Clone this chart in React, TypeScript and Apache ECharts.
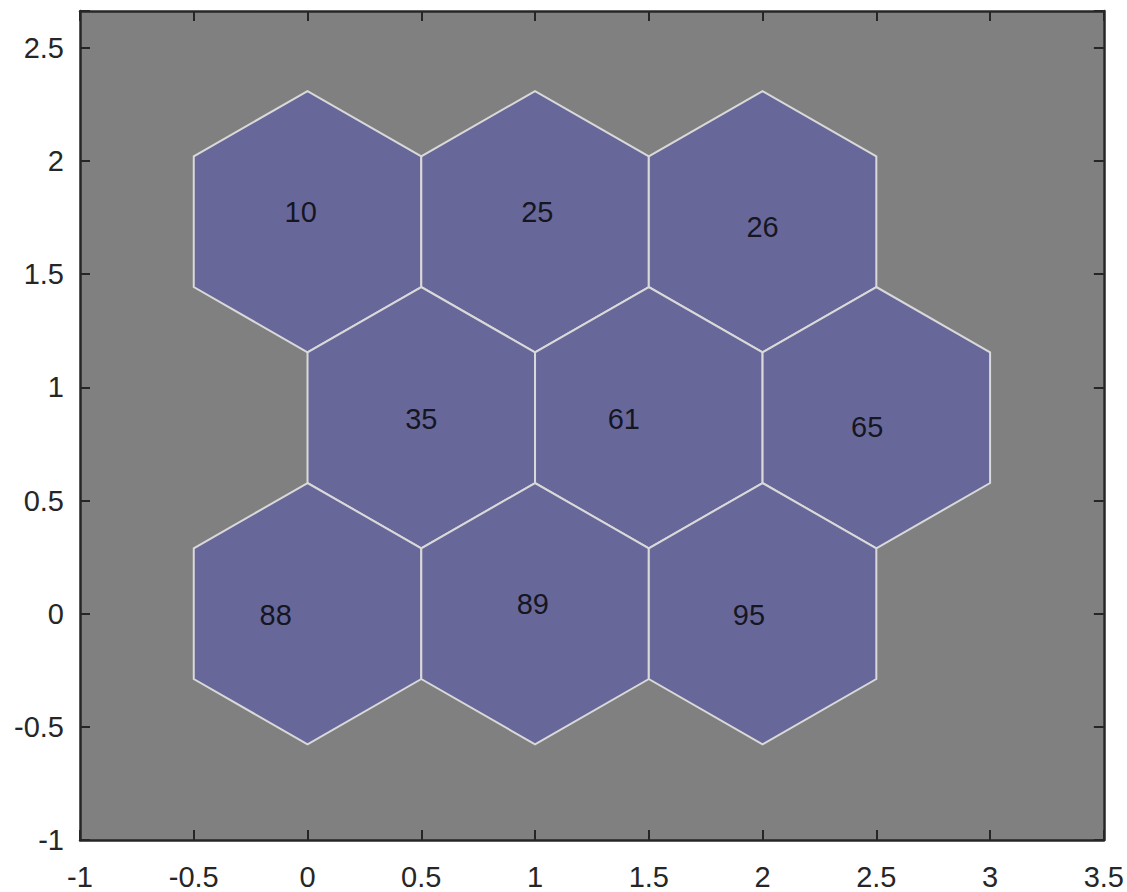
import React, { useEffect, useRef } from "react";
import * as echarts from "echarts";

const hexCenterX = [0, 1, 2, 0.5, 1.5, 2.5, 0, 1, 2];
const hexCenterY = [1.732, 1.732, 1.732, 0.866, 0.866, 0.866, 0, 0, 0];
const hitLabels = ["10", "25", "26", "35", "61", "65", "88", "89", "95"];
const labelX = [-0.03, 1.01, 2.0, 0.5, 1.39, 2.46, -0.14, 0.99, 1.94];
const labelY = [1.776, 1.776, 1.709, 0.861, 0.861, 0.826, -0.004, 0.044, -0.004];
const xTicks = ["-1", "-0.5", "0", "0.5", "1", "1.5", "2", "2.5", "3", "3.5"];
const yTicks = ["-1", "-0.5", "0", "0.5", "1", "1.5", "2", "2.5"];

const X_MIN = -1, X_MAX = 3.5, Y_MIN = -1, Y_MAX = 2.663;
const R = 1 / Math.sqrt(3);
const FONT = "'Liberation Sans', Arial, Helvetica, sans-serif";
const AXIS_COLOR = "#262626";

export default function App() {
  const ref = useRef<HTMLDivElement>(null);
  useEffect(() => {
    if (!ref.current) return;
    const chart = echarts.init(ref.current, null, { renderer: "svg" });
    const fmt = (ticks: string[]) => (v: number) => {
      const s = String(Math.round(v * 1000) / 1000);
      return ticks.includes(s) ? s : "";
    };
    const tickStyle = { show: true, inside: true, length: 10, lineStyle: { color: AXIS_COLOR, width: 2 } };
    const lineStyle = { show: true, onZero: false, lineStyle: { color: AXIS_COLOR, width: 2.5 } };
    chart.setOption({
      animation: false,
      backgroundColor: "#ffffff",
      grid: { left: 80, top: 11, width: 1024, height: 829, backgroundColor: "#808080", show: true, borderWidth: 0 },
      xAxis: [
        {
          type: "value", min: X_MIN, max: X_MAX, interval: 0.5, position: "bottom",
          axisLine: lineStyle, axisTick: tickStyle, splitLine: { show: false },
          axisLabel: { color: AXIS_COLOR, fontSize: 29, fontFamily: FONT, margin: 22, formatter: fmt(xTicks) },
        },
        {
          type: "value", min: X_MIN, max: X_MAX, interval: 0.5, position: "top",
          axisLine: lineStyle, axisTick: tickStyle, splitLine: { show: false }, axisLabel: { show: false },
        },
      ],
      yAxis: [
        {
          type: "value", min: Y_MIN, max: Y_MAX, interval: 0.5, position: "left",
          axisLine: lineStyle, axisTick: tickStyle, splitLine: { show: false },
          axisLabel: { color: AXIS_COLOR, fontSize: 29, fontFamily: FONT, margin: 16, formatter: fmt(yTicks) },
        },
        {
          type: "value", min: Y_MIN, max: Y_MAX, interval: 0.5, position: "right",
          axisLine: lineStyle, axisTick: tickStyle, splitLine: { show: false }, axisLabel: { show: false },
        },
      ],
      series: [
        {
          type: "custom",
          coordinateSystem: "cartesian2d",
          data: hexCenterX.map((x, i) => [x, hexCenterY[i]]),
          renderItem: (params: any, api: any) => {
            const cx = api.value(0), cy = api.value(1);
            const pts: number[][] = [];
            for (let k = 0; k < 6; k++) {
              const a = Math.PI / 2 + (k * Math.PI) / 3;
              pts.push(api.coord([cx + R * Math.cos(a), cy + R * Math.sin(a)]));
            }
            return {
              type: "polygon",
              shape: { points: pts },
              style: { fill: "#67679a", stroke: "#d9d9d9", lineWidth: 2 },
            };
          },
          z: 2,
        },
        {
          type: "scatter",
          symbolSize: 0,
          data: labelX.map((x, i) => ({ value: [x, labelY[i]], name: hitLabels[i] })),
          label: {
            show: true, position: "inside", formatter: (p: any) => p.name,
            color: "#000000", fontSize: 29, fontFamily: FONT,
          },
          z: 5,
        },
      ],
    });
    return () => chart.dispose();
  }, []);
  return <div ref={ref} style={{ position: "fixed", left: 0, top: 0, width: 1127, height: 892 }} />;
}
